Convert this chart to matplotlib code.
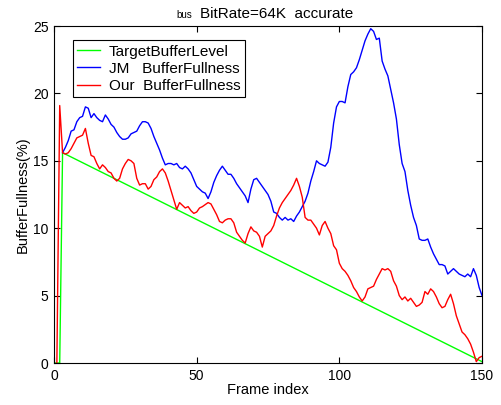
import matplotlib
matplotlib.use('Agg')
import matplotlib.pyplot as plt

# target level: jumps up at start, then falls linearly to the end
target_frames = [0, 2, 3, 150]
target_level = [0.0, 0.0, 15.6, 0.1]

jm_frames = list(range(3, 151))
jm_fullness = [
    15.6, 16.0, 16.5, 17.2, 17.3, 17.9, 18.2, 18.3, 19.0, 18.9,   # 3-12
    18.2, 18.5, 18.2, 18.0, 17.9, 18.4, 18.1, 17.7, 17.5, 17.1,   # 13-22
    16.8, 16.6, 16.6, 16.7, 17.0, 17.1, 17.2, 17.6, 17.9, 17.9,   # 23-32
    17.8, 17.4, 16.8, 16.3, 15.8, 15.2, 14.7, 14.8, 14.8, 14.7,   # 33-42
    14.8, 14.5, 14.4, 14.6, 14.4, 14.1, 13.6, 13.1, 12.9, 12.7,   # 43-52
    12.6, 12.2, 12.7, 13.4, 13.9, 14.3, 14.6, 14.3, 14.0, 14.0,   # 53-62
    13.7, 13.3, 13.0, 12.7, 12.4, 11.9, 12.9, 13.6, 13.7, 13.4,   # 63-72
    13.1, 12.8, 12.5, 12.0, 11.2, 11.1, 10.8, 10.6, 10.8, 10.6,   # 73-82
    10.7, 10.5, 10.9, 11.2, 11.6, 12.0, 12.6, 13.5, 14.2, 15.0,   # 83-92
    14.8, 14.7, 14.6, 14.9, 16.0, 17.8, 19.0, 19.4, 19.4, 19.3,   # 93-102
    20.5, 21.4, 21.6, 21.9, 22.5, 23.2, 23.9, 24.4, 24.8, 24.6,   # 103-112
    24.0, 24.1, 22.4, 21.8, 21.3, 20.3, 19.3, 18.1, 16.2, 14.8,   # 113-122
    14.2, 12.8, 11.7, 10.8, 10.2, 9.2, 9.1, 9.1, 9.2, 8.6,        # 123-132
    8.1, 7.7, 7.3, 7.3, 7.2, 6.6, 6.8, 7.0, 6.8, 6.6,             # 133-142
    6.5, 6.4, 6.6, 6.4, 7.0, 6.5, 5.6, 5.0,                       # 143-150
]

our_frames = list(range(1, 151))
our_fullness = [
    0.0, 19.1, 15.6, 15.5, 15.6, 15.9, 16.3, 16.7, 16.8, 16.9,    # 1-10
    17.4, 16.3, 15.4, 15.3, 14.8, 14.4, 14.7, 14.5, 14.2, 14.1,   # 11-20
    13.7, 13.5, 13.7, 14.4, 14.8, 15.1, 15.0, 14.8, 13.7, 13.2,   # 21-30
    13.3, 13.3, 12.9, 13.1, 13.6, 13.8, 14.2, 14.4, 14.1, 13.5,   # 31-40
    12.8, 12.1, 11.4, 11.9, 11.7, 11.5, 11.6, 11.3, 11.1, 11.2,   # 41-50
    11.5, 11.6, 11.75, 11.9, 11.8, 11.4, 11.0, 10.5, 10.4, 10.6,  # 51-60
    10.7, 10.7, 10.4, 9.7, 9.4, 9.1, 8.9, 9.6, 10.1, 9.8,         # 61-70
    9.7, 9.4, 8.6, 9.4, 9.6, 9.8, 10.2, 10.9, 11.5, 11.9,         # 71-80
    12.2, 12.5, 12.8, 13.2, 13.7, 13.1, 12.3, 10.8, 10.6, 10.6,   # 81-90
    10.3, 10.0, 9.5, 10.2, 10.5, 10.0, 9.6, 8.7, 8.4, 7.4,        # 91-100
    7.0, 6.8, 6.5, 6.1, 5.6, 5.3, 4.9, 4.6, 4.9, 5.5,             # 101-110
    5.6, 5.7, 6.2, 6.6, 7.0, 6.9, 7.0, 6.8, 6.1, 5.7,             # 111-120
    5.0, 4.7, 4.9, 4.6, 4.8, 4.5, 4.2, 4.3, 4.5, 5.3,             # 121-130
    5.1, 5.5, 5.3, 4.9, 4.4, 4.1, 4.2, 4.7, 5.1, 4.4,             # 131-140
    3.5, 2.9, 2.3, 2.1, 1.8, 1.4, 0.8, 0.1, 0.4, 0.5,             # 141-150
]

plt.rcParams['font.family'] = ['Liberation Sans', 'DejaVu Sans']

fig = plt.figure(figsize=(5.01, 4.05), dpi=100)
ax = fig.add_axes([0.1078, 0.1037, 0.8543, 0.8321])

ax.plot(target_frames, target_level, color=(0, 1, 0), lw=1.0, label='TargetBufferLevel')
ax.plot(jm_frames, jm_fullness, color=(0, 0, 1), lw=1.0, label='JM   BufferFullness')
ax.plot(our_frames, our_fullness, color=(1, 0, 0), lw=1.0, label='Our  BufferFullness')

ax.set_xlim(0, 150)
ax.set_ylim(0, 25)
ax.set_xticks([0, 50, 100, 150])
ax.set_yticks([0, 5, 10, 15, 20, 25])
ax.tick_params(direction='in', length=4, width=0.8, top=True, right=True,
               labelsize=10, pad=4)
for s in ax.spines.values():
    s.set_linewidth(0.8)

ax.set_xlabel('Frame index', fontsize=10.5, labelpad=0)
ax.set_ylabel('BufferFullness(%)', fontsize=10.5, labelpad=2)

leg = ax.legend(loc='upper left', bbox_to_anchor=(0.044, 0.958), fontsize=11,
                frameon=True, fancybox=False, edgecolor='black', framealpha=1,
                handlelength=1.45, handletextpad=0.6, labelspacing=0.2,
                borderpad=0.3, borderaxespad=0)
leg.get_frame().set_linewidth(0.8)

# title with a small prefix
fig.text(176 / 501, 1 - 18 / 405, 'bus', fontsize=7, ha='left', va='baseline')
fig.text(200 / 501, 1 - 18 / 405, 'BitRate=64K  accurate', fontsize=11,
         ha='left', va='baseline')

fig.savefig('out.png', dpi=100)
